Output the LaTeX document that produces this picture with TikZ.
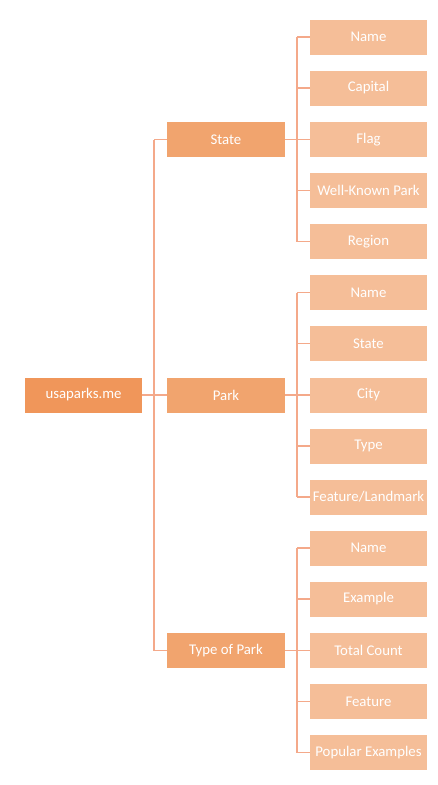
\documentclass[tikz,border=0pt]{standalone}
\usepackage{fontspec}
\setmainfont{Carlito}
\definecolor{rootc}{HTML}{F0965A}
\definecolor{midc}{HTML}{F1A46E}
\definecolor{leafc}{HTML}{F5BE98}
\definecolor{linec}{HTML}{F4A98A}
\begin{document}
\begin{tikzpicture}[x=1pt,y=-1pt,
  box/.style={minimum height=35pt, inner sep=0pt, text=white, font=\fontsize{14.8}{17}\selectfont, anchor=center},
  rootbox/.style={box, fill=rootc, minimum width=117pt},
  midbox/.style={box, fill=midc, minimum width=118pt},
  leafbox/.style={box, fill=leafc, minimum width=117pt},
  conn/.style={draw=linec, line width=1.1pt}]
\useasboundingbox (0,0) rectangle (437,785);
\node[rootbox] (root) at (83.5,395) {usaparks.me};
\node[midbox] (state) at (226,139.5) {State};
\node[midbox] (park) at (226,395) {Park};
\node[midbox] (type) at (226,650.5) {Type of Park};
% leaves
\node[leafbox] (s1) at (368.5,37) {Name};
\node[leafbox] (s2) at (368.5,88) {Capital};
\node[leafbox] (s3) at (368.5,139.5) {Flag};
\node[leafbox] (s4) at (368.5,190.5) {Well-Known Park};
\node[leafbox] (s5) at (368.5,241.5) {Region};
\node[leafbox] (p1) at (368.5,292.5) {Name};
\node[leafbox] (p2) at (368.5,343.5) {State};
\node[leafbox] (p3) at (368.5,395) {City};
\node[leafbox] (p4) at (368.5,446) {Type};
\node[leafbox] (p5) at (368.5,497) {Feature/Landmark};
\node[leafbox] (t1) at (368.5,548) {Name};
\node[leafbox] (t2) at (368.5,599) {Example};
\node[leafbox] (t3) at (368.5,650.5) {Total Count};
\node[leafbox] (t4) at (368.5,701.5) {Feature};
\node[leafbox] (t5) at (368.5,752.5) {Popular Examples};
% trunk
\coordinate (tr) at (154,0);
\draw[conn] (root.east) -- (root.east -| tr);
\draw[conn] (state.west -| tr) -- (type.west -| tr);
\foreach \m in {state,park,type} \draw[conn] (\m.west -| tr) -- (\m.west);
% branches
\coordinate (br) at (297,0);
\foreach \m/\a/\b in {state/s1/s5, park/p1/p5, type/t1/t5} {
  \draw[conn] (\m.east) -- (\m.east -| br);
  \draw[conn] (\a.west -| br) -- (\b.west -| br);
}
\foreach \l in {s1,s2,s3,s4,s5,p1,p2,p3,p4,p5,t1,t2,t3,t4,t5}
  \draw[conn] (\l.west -| br) -- (\l.west);
\end{tikzpicture}
\end{document}
